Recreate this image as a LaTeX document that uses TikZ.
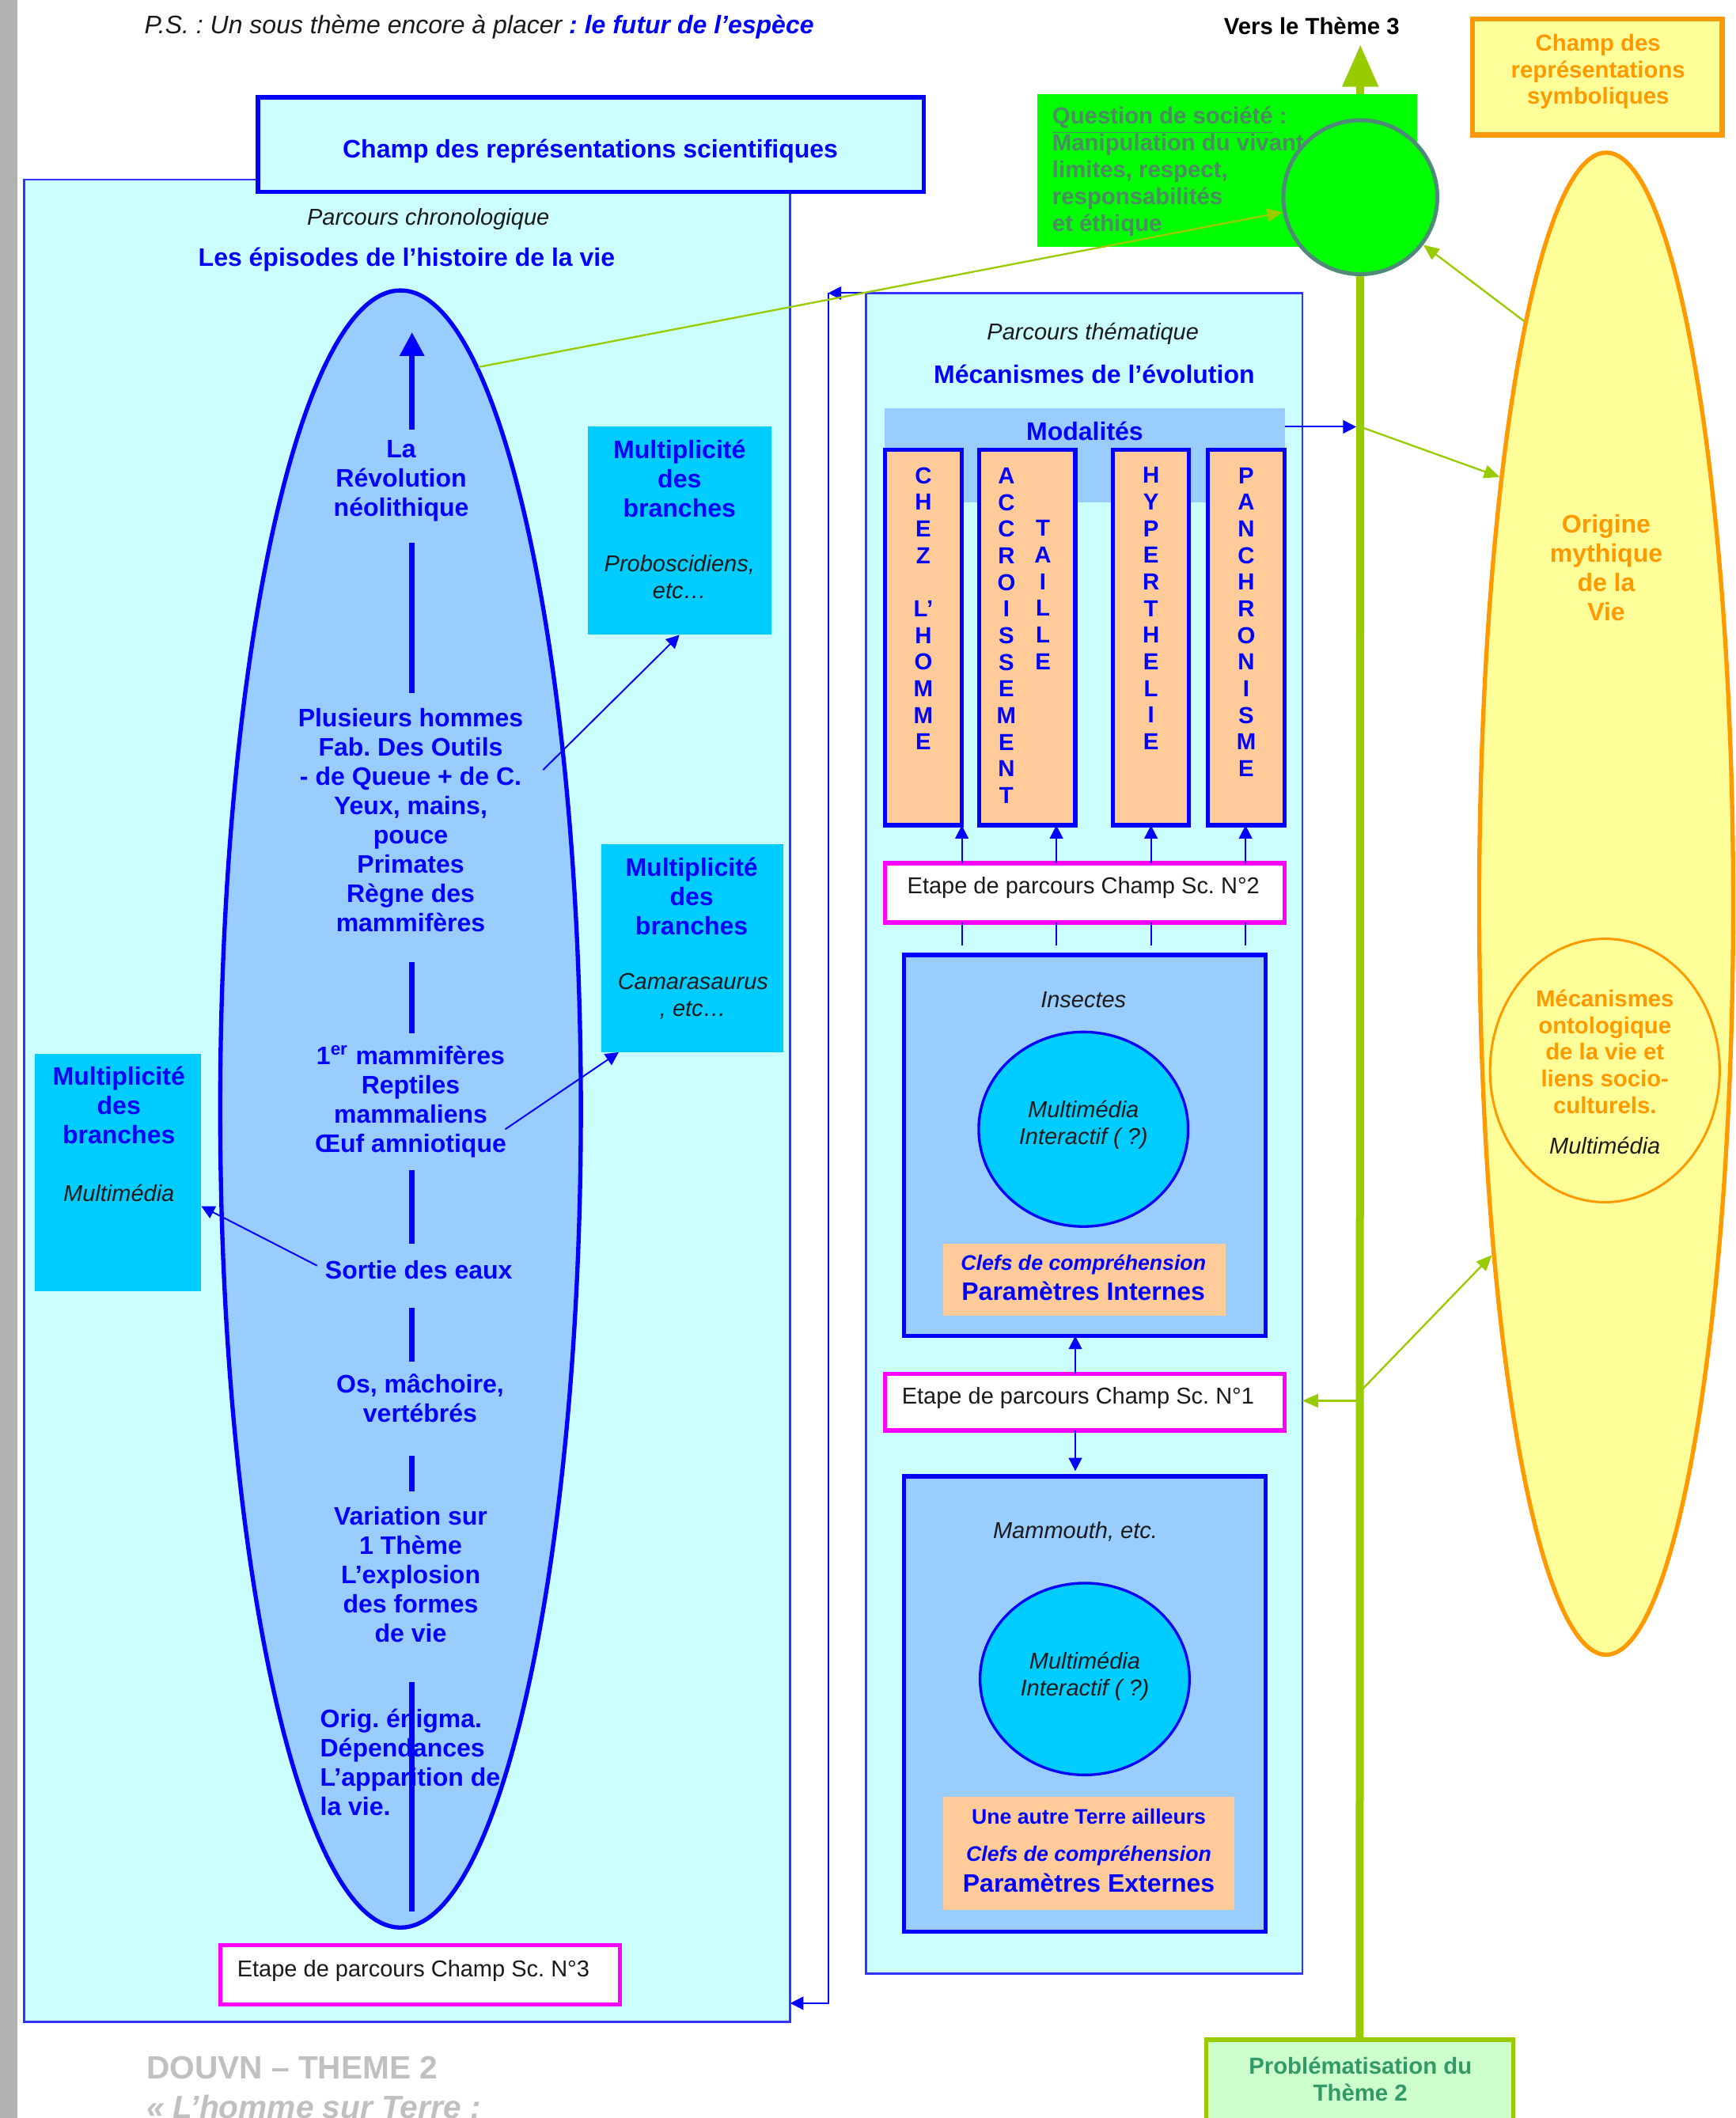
\documentclass[tikz,border=0pt]{standalone}
\usepackage{fontspec}
\setmainfont{Liberation Sans}
\usetikzlibrary{arrows.meta,shapes.geometric,calc}
\definecolor{cyanbg}{HTML}{CCFFFF}
\definecolor{lblue}{HTML}{99CCFF}
\definecolor{cbox}{HTML}{00CCFF}
\definecolor{peach}{HTML}{FFCC99}
\definecolor{dblue}{HTML}{0000FF}
\definecolor{pblue}{HTML}{3333FF}
\definecolor{magen}{HTML}{FF00FF}
\definecolor{lime}{HTML}{99CC00}
\definecolor{bgreen}{HTML}{00FF00}
\definecolor{qtext}{HTML}{4D8B63}
\definecolor{qcirc}{HTML}{4F8A78}
\definecolor{yel}{HTML}{FFFF99}
\definecolor{orng}{HTML}{FF9900}
\definecolor{pgfill}{HTML}{CCFFCC}
\definecolor{pgtext}{HTML}{339966}
\definecolor{foot}{HTML}{C0C0C0}
\definecolor{sidebar}{HTML}{B2B2B2}
\definecolor{ink}{HTML}{1A1A1A}
\frenchspacing
\newdimen\U \U=0.51222pt
\newcommand\fA{\fontsize{9.6}{11.1}\selectfont\bfseries}
\newcommand\fS{\fontsize{8.8}{10.15}\selectfont\bfseries}
\newcommand\fR{\fontsize{8.7}{10.2}\selectfont}
\newcommand\fI{\fontsize{8.7}{10.2}\selectfont\itshape}
\newcommand\fC{\fontsize{8}{9}\selectfont\bfseries\itshape}
\newcommand\fT{\fontsize{8}{9}\selectfont\bfseries}
\newcommand\fV{\fontsize{8.8}{10.1}\selectfont\bfseries}
\newcommand\bx[6]{\node[#6, minimum width={(#4-#2)*\U}, minimum height={(#5-#3)*\U}] (#1) at ({(#2+#4)/2},{(#3+#5)/2}) {};}
\tikzset{
  rbox/.style={rectangle, inner sep=0pt, outer sep=0pt},
  txt/.style={inner sep=0pt, outer sep=0pt, align=center},
  colbox/.style={rbox, fill=peach, draw=dblue, line width=1.6pt},
  etbox/.style={rbox, fill=white, draw=magen, line width=1.6pt},
  mbox/.style={rbox, fill=lblue, draw=dblue, line width=1.6pt},
  barrow/.style={draw=dblue, line width=0.6pt, -{Triangle[length=5pt,width=5pt]}},
  bline/.style={draw=dblue, line width=0.6pt},
  garrow/.style={draw=lime, line width=0.7pt, -{Triangle[length=6pt,width=5pt]}},
  seg/.style={draw=dblue, line width=2pt},
  bt/.style={txt, text=dblue, font=\fA},
  vt/.style={txt, text=dblue, font=\fV},
  it/.style={txt, text=ink, font=\fI},
}
\begin{document}
\begin{tikzpicture}[x=\U,y=-\U]
\useasboundingbox (0,0) rectangle (1285,1568);
\clip (0,0) rectangle (1285,1568);
\fill[white] (0,0) rectangle (1285,1568);
\fill[sidebar] (0,0) rectangle (13,1568);

% header
\node[txt, anchor=west, text=ink, font={\fontsize{9.6}{11}\selectfont\itshape}] (ps) at (107,20) {P.S. : Un sous thème encore à placer {\bfseries\color{dblue}: le futur de l’espèce}};

% left panel
\bx{lpanel}{18}{133}{585}{1497}{rbox, fill=cyanbg, draw=pblue, line width=0.8pt}
\bx{scibox}{191}{72}{684}{142}{rbox, fill=cyanbg, draw=dblue, line width=1.6pt}
\node[bt] (scit) at (437,112) {Champ des représentations scientifiques};
\node[it] (pchron) at (317,162) {Parcours chronologique};
\node[bt] (episodes) at (301,192) {Les épisodes de l’histoire de la vie};

\node[ellipse, fill=lblue, draw=dblue, line width=1.6pt, minimum width={267*\U}, minimum height={1212*\U}, inner sep=0pt] (lell) at (296.5,821) {};

\node[bt] (revol) at (297,356) {La\\Révolution\\néolithique};
\node[bt] (plus) at (304,607) {Plusieurs hommes\\Fab. Des Outils\\- de Queue + de C.\\Yeux, mains,\\pouce\\Primates\\Règne des\\mammifères};
\node[bt] (mam1) at (304,815.5) {1\textsuperscript{er} mammifères\\Reptiles\\mammaliens\\Œuf amniotique};
\node[bt] (sortie) at (310,940) {Sortie des eaux};
\node[bt] (os) at (311,1035) {Os, mâchoire,\\vertébrés};
\node[bt] (var) at (304,1165.5) {Variation sur\\1 Thème\\L’explosion\\des formes\\de vie};
\node[bt, anchor=west, align=left] (orig) at (237,1304.5) {Orig. énigma.\\Dépendances\\L'apparition de\\la vie.};

\coordinate (ar0) at (305,318);
\coordinate (ar1) at (305,246);
\draw[seg, -{Triangle[length=9pt,width=9pt]}] (ar0) -- (ar1);
\foreach \a/\b [count=\i] in {402/513,712/765,866/921,968/1008,1078/1104,1245/1415}{
  \coordinate (sa\i) at (305,\a);
  \coordinate (sb\i) at (305,\b);
  \draw[seg] (sa\i) -- (sb\i);
}

% multiplicite boxes
\bx{mbA}{435}{316}{571}{470}{rbox, fill=cbox}
\bx{mbB}{445}{625}{580}{779}{rbox, fill=cbox}
\bx{mbC}{26}{780}{149}{956}{rbox, fill=cbox}
\node[bt] (mbAt) at (503,354.5) {Multiplicité\\des\\branches};
\node[it] (mbAi) at (503,427) {Proboscidiens,\\etc…};
\node[bt] (mbBt) at (512,663.5) {Multiplicité\\des\\branches};
\node[it] (mbBi) at (513,737.5) {Camarasaurus\\, etc…};
\node[bt] (mbCt) at (88,818.5) {Multiplicité\\des\\branches};
\node[it] (mbCi) at (88,883) {Multimédia};

\coordinate (pa) at (402,570);
\coordinate (pb) at (374,836);
\draw[barrow] (pa) -- (mbA.south);
\draw[barrow] (pb) -- ($(mbB.south west)+(13,0)$);
\draw[barrow] ($(sortie.west)+(-6,-3)$) -- ($(mbC.east)+(0,25)$);

\bx{et3}{163}{1440}{459}{1484}{etbox}
\node[txt, text=ink, font=\fR] (et3t) at (306,1459) {Etape de parcours Champ Sc. N°3};

% right panel
\bx{rpanel}{641}{217}{964}{1461}{rbox, fill=cyanbg, draw=pblue, line width=0.8pt}
\node[it] (pthem) at (809,247) {Parcours thématique};
\node[bt] (meca) at (810,277) {Mécanismes de l’évolution};
\bx{modal}{655}{302}{951}{372}{rbox, fill=lblue}
\node[bt] (modt) at (803,319) {Modalités};
\bx{colA}{655}{333}{712}{611}{colbox}
\bx{colB}{725}{333}{796}{611}{colbox}
\bx{colC}{824}{333}{880}{611}{colbox}
\bx{colD}{894}{333}{951}{611}{colbox}
\node[vt] (colAt) at (683.5,450.5) {C\\H\\E\\Z\\\mbox{}\\L’\\H\\O\\M\\M\\E};
\node[vt] (colBt) at (745,470.5) {A\\C\\C\\R\\O\\I\\S\\S\\E\\M\\E\\N\\T};
\node[vt] (colBu) at (772,440.5) {T\\A\\I\\L\\L\\E};
\node[vt] (colCt) at (852,450.5) {H\\Y\\P\\E\\R\\T\\H\\E\\L\\I\\E};
\node[vt] (colDt) at (922.5,460.5) {P\\A\\N\\C\\H\\R\\O\\N\\I\\S\\M\\E};

\bx{et2}{655}{639}{951}{683}{etbox}
\node[txt, text=ink, font=\fR] (et2t) at (802,657) {Etape de parcours Champ Sc. N°2};
\foreach \x/\c in {712/colA,782/colB,852/colC,922/colD}{
  \draw[barrow] (et2.north -| \x,0) -- (\c.south -| \x,0);
  \draw[bline] (et2.south -| \x,0) -- (\x,700);
}

\bx{ins}{669}{707}{937}{989}{mbox}
\node[it] (inst) at (802,740) {Insectes};
\node[ellipse, fill=cbox, draw=dblue, line width=1pt, minimum width={155*\U}, minimum height={144*\U}, inner sep=0pt] (mm1) at (802,836) {};
\node[it] (mm1t) at (802,833) {Multimédia\\Interactif ( ?)};
\bx{clef1}{698}{921}{907}{974}{rbox, fill=peach}
\node[txt, text=dblue, font=\fC] (clef1a) at (802,936) {Clefs de compréhension};
\node[bt] (clef1b) at (802,956) {Paramètres Internes};

\bx{et1}{655}{1017}{951}{1059}{etbox}
\node[txt, text=ink, font=\fR] (et1t) at (798,1035) {Etape de parcours Champ Sc. N°1};
\draw[barrow] (et1.north -| 796,0) -- (ins.south -| 796,0);

\bx{mam}{669}{1093}{937}{1430}{mbox}
\draw[barrow, shorten >=2pt] (et1.south -| 796,0) -- (mam.north -| 796,0);
\node[it] (mamt) at (796,1134) {Mammouth, etc.};
\node[ellipse, fill=cbox, draw=dblue, line width=1pt, minimum width={155*\U}, minimum height={142*\U}, inner sep=0pt] (mm2) at (803,1243) {};
\node[it] (mm2t) at (803,1241) {Multimédia\\Interactif ( ?)};
\bx{clef2}{698}{1330}{914}{1414}{rbox, fill=peach}
\node[txt, text=dblue, font=\fT] (clef2u) at (806,1345) {Une autre Terre ailleurs};
\node[txt, text=dblue, font=\fC] (clef2a) at (806,1374) {Clefs de compréhension};
\node[bt] (clef2b) at (806,1394) {Paramètres Externes};

% elbow connector right panel -> left panel
\coordinate (ec1) at (613,217);
\coordinate (ec2) at (613,1483);
\draw[barrow] (rpanel.north west) -- (ec1);
\draw[barrow] (ec1) -- (ec2) -- (lpanel.east |- ec2);

% green axis
\bx{pbox}{893}{1510}{1120}{1576}{rbox, fill=pgfill, draw=lime, line width=1.6pt}
\node[txt, text=pgtext, font=\fS] (pboxt) at (1007,1539) {Problématisation du\\Thème 2};
\coordinate (gtop) at (1007,33);
\draw[draw=lime, line width=3pt, -{Triangle[length=16pt,width=13pt]}] (pbox.north) -- (gtop);
\node[txt, text=black, font=\fS] (vers) at (971,19) {Vers le Thème 3};

\bx{qbox}{768}{70}{1049}{183}{rbox, fill=bgreen}
\node[txt, anchor=west, align=left, text=qtext, font=\fS] (qt) at (779,127) {\underline{Question de société} :\\Manipulation du vivant\\limites, respect,\\responsabilités\\et éthique};
\node[circle, fill=bgreen, draw=qcirc, line width=1.5pt, minimum size={114*\U}, inner sep=0pt] (circ) at (1007,146) {};

% symbolic side
\node[ellipse, fill=yel, draw=orng, line width=1.6pt, minimum width={188*\U}, minimum height={1112*\U}, inner sep=0pt] (yell) at (1189,669) {};
\node[txt, text=orng, font=\fA] (origv) at (1189,420.5) {Origine\\mythique\\de la\\Vie};
\node[ellipse, fill=yel, draw=orng, line width=0.9pt, minimum width={170*\U}, minimum height={195*\U}, inner sep=0pt] (ont) at (1188,792.5) {};
\node[txt, text=orng, font=\fV] (ontt) at (1188,778.5) {Mécanismes\\ontologique\\de la vie et\\liens socio-\\culturels.};
\node[it] (ontm) at (1188,848) {Multimédia};

\bx{symb}{1090}{14}{1275}{100}{rbox, fill=yel, draw=orng, line width=2pt}
\node[txt, text=orng, font=\fS] (symbt) at (1183,53) {Champ des\\représentations\\symboliques};

% green connectors
\coordinate (g0) at (1004,316);
\draw[barrow] (modal.east |- g0) -- (g0);
\draw[garrow] (lell.84.4) -- (circ);
\draw[garrow] (yell.98.7) -- (circ);
\coordinate (g1) at (1007,316);
\draw[garrow] (g1) -- (yell.104.2);
\coordinate (g2) at (1007,1030);
\draw[garrow] (g2) -- (yell.252.8);
\coordinate (g3) at (1007,1037);
\draw[garrow] (g3) -- (rpanel.east |- g3);

% footer
\node[anchor=west, inner sep=0pt, text=foot, font={\fontsize{12.2}{14}\selectfont\bfseries}] (douvn) at (108,1531) {DOUVN – THEME 2};
\node[anchor=west, inner sep=0pt, text=foot, font={\fontsize{12.2}{14}\selectfont\bfseries\itshape}] (lhom) at (108,1560) {« L’homme sur Terre :};
\end{tikzpicture}
\end{document}
